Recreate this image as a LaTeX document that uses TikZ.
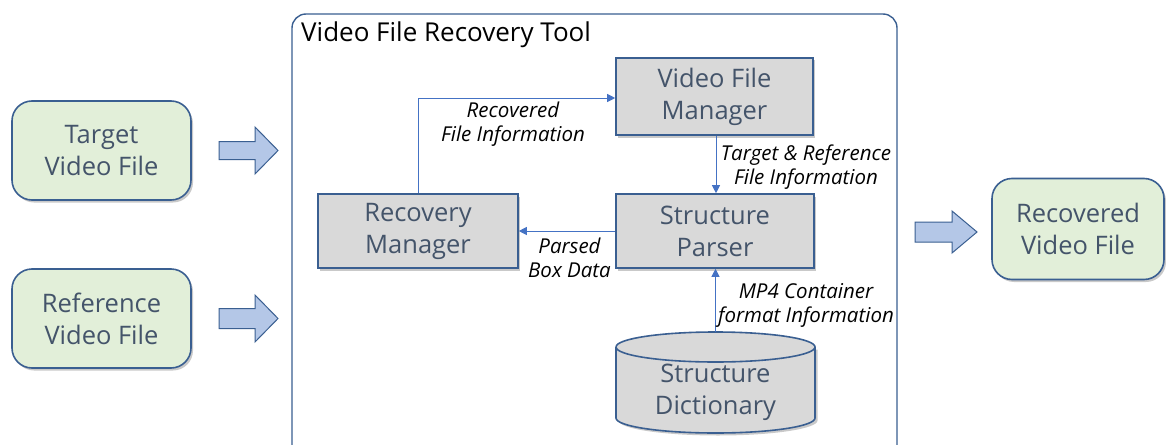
\documentclass[tikz,border=0pt]{standalone}
\usepackage{fontspec}
\setmainfont{Open Sans}
\usetikzlibrary{shadows,arrows.meta}

\definecolor{edgeblue}{HTML}{3A5F91}
\definecolor{linkblue}{HTML}{4472C4}
\definecolor{greenfill}{HTML}{E2EFD9}
\definecolor{grayfill}{HTML}{D9D9D9}
\definecolor{arrowfill}{HTML}{B4C7E7}
\definecolor{boxtext}{HTML}{44546A}

\tikzset{
  softshadow/.style={drop shadow={shadow xshift=2pt, shadow yshift=-2.5pt, opacity=0.35, fill=black!60}},
  filebox/.style={draw=edgeblue, line width=1.6pt, fill=greenfill, rounded corners=20pt,
    minimum width=179pt, minimum height=99pt, align=center, text=boxtext,
    font=\fontsize{25.5}{32}\selectfont, softshadow},
  unitbox/.style={draw=edgeblue, line width=1.6pt, fill=grayfill,
    align=center, text=boxtext, font=\fontsize{25.5}{32}\selectfont, softshadow},
  blockarrow/.style={draw=edgeblue, line width=1pt, fill=arrowfill, line join=miter},
  link/.style={draw=linkblue, line width=1pt, -{Triangle[length=8pt,width=8pt]}},
  linklabel/.style={font=\itshape\fontsize{20.5}{24}\selectfont, text=black, align=center, inner sep=0pt},
}

\begin{document}
\begin{tikzpicture}[x=1pt,y=-1pt]
\useasboundingbox (0,0) rectangle (1166,444);
\fill[white] (0,0) rectangle (1166,444);

% outer tool frame
\draw[edgeblue, line width=1.4pt, rounded corners=14pt] (292,14) rectangle (897,470);
\node[anchor=west, font=\fontsize{26}{30}\selectfont, inner sep=0pt] (title) at (301,35) {Video File Recovery Tool};

% input and output files
\node[filebox] (tgt) at (101.5,150.5) {Target\\Video File};
\node[filebox] (ref) at (101.5,318.5) {Reference\\Video File};
\node[filebox, minimum width=172pt, minimum height=101pt] (rec) at (1078,229) {Recovered\\Video File};

% block arrows
\draw[blockarrow] (219,141.5) -- (255,141.5) -- (255,127) -- (278,150.5) -- (255,174) -- (255,159.5) -- (219,159.5) -- cycle;
\draw[blockarrow] (219,308.5) -- (255,308.5) -- (255,295) -- (278,318.5) -- (255,342) -- (255,328.5) -- (219,328.5) -- cycle;
\draw[blockarrow] (915,222) -- (952,222) -- (952,211) -- (977,232) -- (952,253) -- (952,242) -- (915,242) -- cycle;

% internal units
\node[unitbox, minimum width=197pt, minimum height=77pt] (vfm) at (714.5,96.5) {Video File\\Manager};
\node[unitbox, minimum width=198pt, minimum height=74pt] (sp) at (715,231) {Structure\\Parser};
\node[unitbox, minimum width=200pt, minimum height=74pt] (rm) at (418,231) {Recovery\\Manager};

% structure dictionary (cylinder with its shadow)
\fill[black!60, opacity=0.35] (618.5,349.5) -- (618.5,420.5) arc[start angle=180, end angle=360, x radius=99.5pt, y radius=15pt] -- (817.5,349.5) -- cycle;
\draw[edgeblue, line width=1.6pt, fill=grayfill] (616,347) -- (616,418) arc[start angle=180, end angle=360, x radius=99.5pt, y radius=15pt] -- (815,347)
  arc[start angle=0, end angle=180, x radius=99.5pt, y radius=15pt];
\draw[edgeblue, line width=1.6pt] (616,347) arc[start angle=180, end angle=360, x radius=99.5pt, y radius=15pt];
\node[align=center, text=boxtext, font=\fontsize{25.5}{32}\selectfont] (dict) at (715.5,392) {Structure\\Dictionary};
\coordinate (dicttop) at (715.5,332);

% data flow
\draw[link] (rm.north) |- (vfm.west |- 0,98);
\draw[link] (vfm.south -| 716,0) -- (sp.north -| 716,0);
\draw[link] (sp.west) -- (rm.east);
\draw[link] (dicttop) -- (sp.south -| 715.5,0);

% flow labels
\node[linklabel] (lblrec) at (513,124) {Recovered\\File Information};
\node[linklabel] (lbltr) at (806,167) {Target \& Reference\\File Information};
\node[linklabel] (lblpbd) at (569.5,258) {Parsed\\Box Data};
\node[linklabel] (lblmp4) at (806,305) {MP4 Container\\format Information};
\end{tikzpicture}
\end{document}
